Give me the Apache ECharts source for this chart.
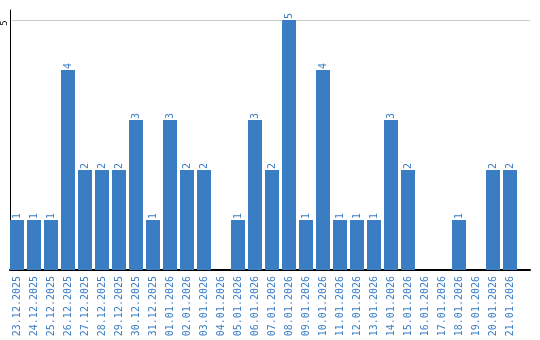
<!DOCTYPE html>
<html><head><meta charset="utf-8">
<script src="https://cdn.jsdelivr.net/npm/echarts@6/dist/echarts.min.js"></script>
<style>html,body{margin:0;padding:0;background:#fff}#c{width:540px;height:340px}</style>
</head><body><div id="c"></div>
<script>
const categories = ['23.12.2025','24.12.2025','25.12.2025','26.12.2025','27.12.2025','28.12.2025','29.12.2025','30.12.2025','31.12.2025','01.01.2026','02.01.2026','03.01.2026','04.01.2026','05.01.2026','06.01.2026','07.01.2026','08.01.2026','09.01.2026','10.01.2026','11.01.2026','12.01.2026','13.01.2026','14.01.2026','15.01.2026','16.01.2026','17.01.2026','18.01.2026','19.01.2026','20.01.2026','21.01.2026'];
const values = [1,1,1,4,2,2,2,3,1,3,2,2,0,1,3,2,5,1,4,1,1,1,3,2,0,0,1,0,2,2];
const yTicks = [5];

const blue = '#3b7dc3';
const chart = echarts.init(document.getElementById('c'));
chart.setOption({
  animation: false,
  grid: [
    {left: 8.5, width: 510, top: 10, bottom: 70},
    {left: 10, right: 10, top: 10, bottom: 70},
    {left: 10, right: 10, top: 20, bottom: 70}
  ],
  xAxis: [
    {type: 'category', gridIndex: 0, data: categories,
     axisLine: {show: false}, axisTick: {show: false},
     axisLabel: {rotate: 90, interval: 0, margin: 6, color: blue,
       fontFamily: 'DejaVu Sans Mono', fontSize: 10}},
    {type: 'value', gridIndex: 1, min: 0, max: 1,
     axisLine: {show: true, lineStyle: {color: '#000', width: 2}},
     axisTick: {show: false}, axisLabel: {show: false}, splitLine: {show: false}},
    {type: 'value', gridIndex: 2, min: 0, max: 1, show: false}
  ],
  yAxis: [
    {type: 'value', gridIndex: 0, min: 0, max: 5.2, show: false},
    {type: 'value', gridIndex: 1, min: 0, max: 5.2,
     axisLine: {show: true, lineStyle: {color: '#000', width: 1}},
     axisTick: {show: false}, axisLabel: {show: false}, splitLine: {show: false}},
    {type: 'value', gridIndex: 2, min: 0, max: 5, interval: 5,
     axisLine: {show: false}, axisTick: {show: false},
     axisLabel: {rotate: 90, margin: 3, color: '#000', fontFamily: 'DejaVu Sans Mono', fontSize: 9,
       padding: [0, 6, 0, 0],
       formatter: v => yTicks.includes(v) ? String(v) : ''},
     splitLine: {show: true, lineStyle: {color: '#cccccc', width: 1}}}
  ],
  series: [{
    type: 'bar', xAxisIndex: 0, yAxisIndex: 0, data: values, barWidth: 14,
    itemStyle: {color: blue},
    label: {show: true, position: 'top', distance: 1, rotate: 90, align: 'left', verticalAlign: 'middle',
      color: blue, fontFamily: 'DejaVu Sans Mono', fontSize: 10,
      formatter: p => p.value > 0 ? String(p.value) : ''}
  }]
});
</script></body></html>
